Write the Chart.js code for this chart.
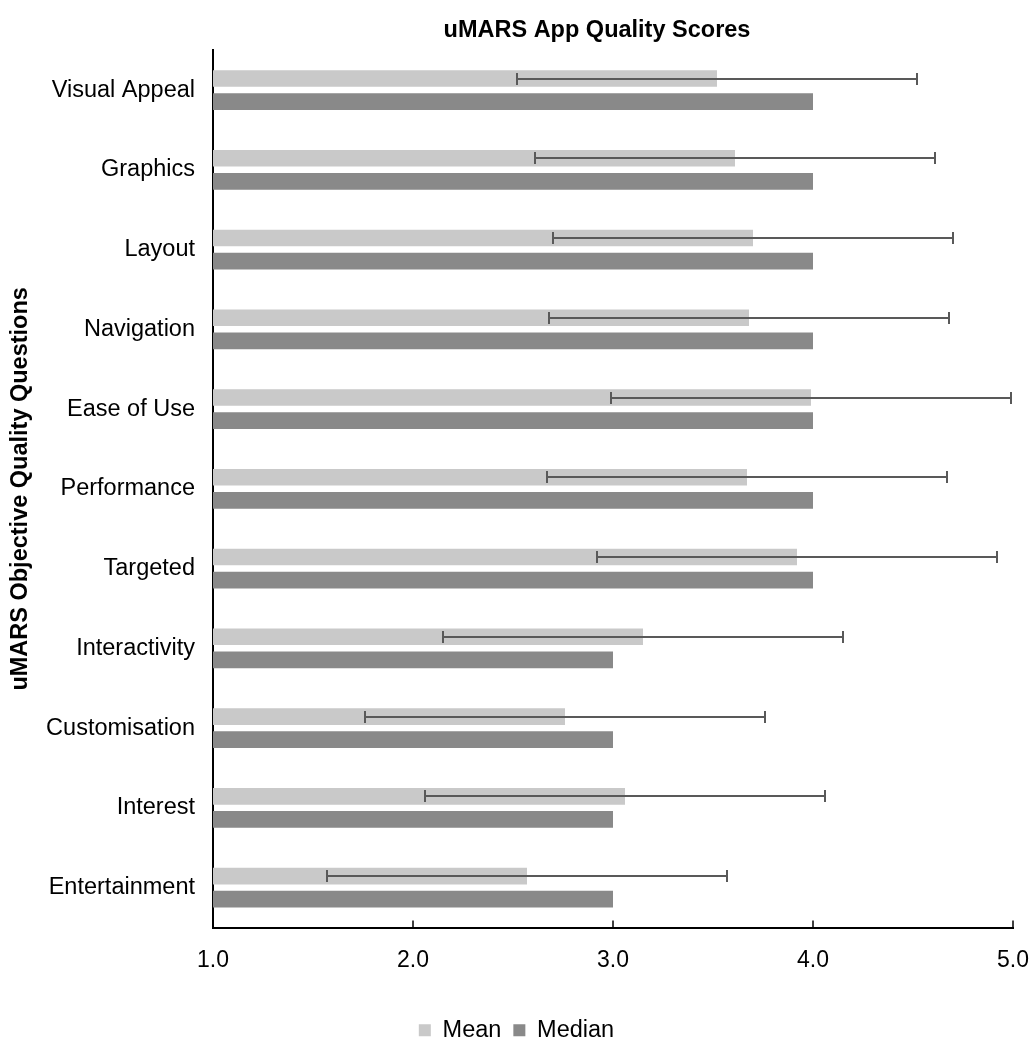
<!DOCTYPE html>
<html>
<head>
<meta charset="utf-8">
<script src="https://cdn.jsdelivr.net/npm/chart.js@4.4.0/dist/chart.umd.min.js"></script>
<style>
  html, body { margin: 0; padding: 0; background: #fff; }
  #wrap { width: 1031px; height: 1045px; }
</style>
</head>
<body>
<div id="wrap"><canvas id="c" width="1031" height="1045"></canvas></div>
<script>
const categories = ["Visual Appeal", "Graphics", "Layout", "Navigation", "Ease of Use", "Performance", "Targeted", "Interactivity", "Customisation", "Interest", "Entertainment"];
const meanValues = [3.52, 3.61, 3.70, 3.68, 3.99, 3.67, 3.92, 3.15, 2.76, 3.06, 2.57];
const medianValues = [4, 4, 4, 4, 4, 4, 4, 3, 3, 3, 3];
const meanSD = [1.0, 1.0, 1.0, 1.0, 1.0, 1.0, 1.0, 1.0, 1.0, 1.0, 1.0];
const xTicks = [1, 2, 3, 4, 5];

const FONT = "'Liberation Sans', Arial, sans-serif";

const errorBarPlugin = {
  id: 'errorBars',
  afterDatasetsDraw(chart) {
    const meta = chart.getDatasetMeta(0);
    const xs = chart.scales.x;
    const ctx = chart.ctx;
    ctx.save();
    ctx.strokeStyle = '#595959';
    ctx.lineWidth = 2;
    meta.data.forEach((bar, i) => {
      const y = Math.round(bar.y);
      const x1 = xs.getPixelForValue(meanValues[i] - meanSD[i]);
      const x2 = xs.getPixelForValue(meanValues[i] + meanSD[i]);
      ctx.beginPath();
      ctx.moveTo(x1, y); ctx.lineTo(x2, y);
      ctx.moveTo(x1, y - 6); ctx.lineTo(x1, y + 6);
      ctx.moveTo(x2, y - 6); ctx.lineTo(x2, y + 6);
      ctx.stroke();
    });
    ctx.restore();
  }
};

const innerTicksPlugin = {
  id: 'innerTicks',
  afterDraw(chart) {
    const xs = chart.scales.x;
    const ctx = chart.ctx;
    const yb = chart.chartArea.bottom;
    ctx.save();
    ctx.strokeStyle = '#000';
    ctx.lineWidth = 1.5;
    xTicks.forEach(v => {
      const x = xs.getPixelForValue(v);
      ctx.beginPath();
      ctx.moveTo(x, yb); ctx.lineTo(x, yb - 7);
      ctx.stroke();
    });
    ctx.restore();
  }
};

const blockShiftPlugin = {
  id: 'blockShift',
  afterLayout(chart) {
    if (chart.titleBlock) { chart.titleBlock.left = 181; }
    if (chart.legend) { chart.legend.left += 10; chart.legend.right += 10; }
  }
};

new Chart(document.getElementById('c'), {
  type: 'bar',
  data: {
    labels: categories,
    datasets: [
      { label: 'Mean', data: meanValues, backgroundColor: '#c9c9c9', categoryPercentage: 0.58, barPercentage: 0.72 },
      { label: 'Median', data: medianValues, backgroundColor: '#898989', categoryPercentage: 0.58, barPercentage: 0.72 }
    ]
  },
  options: {
    indexAxis: 'y',
    responsive: false,
    animation: false,
    layout: { padding: { top: 0, right: 18, bottom: -7, left: 0 } },
    plugins: {
      title: {
        display: true,
        text: 'uMARS App Quality Scores',
        color: '#000',
        font: { family: FONT, size: 23.5, weight: 'bold' },
        padding: { top: 16, bottom: 6 }
      },
      legend: {
        position: 'bottom',
        labels: {
          color: '#000',
          font: { family: FONT, size: 23.5 },
          boxWidth: 12, boxHeight: 12,
          padding: 12
        }
      },
      tooltip: { enabled: false }
    },
    scales: {
      x: {
        min: 1, max: 5,
        afterBuildTicks(scale) { scale.ticks = xTicks.map(v => ({ value: v })); },
        afterFit(scale) { scale.height = 79; scale.paddingRight = 0; scale.paddingLeft = 0; },
        grid: { display: false, drawTicks: false },
        border: { display: true, color: '#000', width: 2 },
        ticks: {
          color: '#000',
          font: { family: FONT, size: 23 },
          padding: 19,
          callback: v => Number(v).toFixed(1)
        }
      },
      y: {
        afterFit(scale) { scale.width = 213; },
        grid: { display: false, drawTicks: false },
        border: { display: true, color: '#000', width: 2 },
        ticks: {
          color: '#000',
          font: { family: FONT, size: 23.5 },
          padding: 18
        },
        title: {
          display: true,
          text: 'uMARS Objective Quality Questions',
          color: '#000',
          font: { family: FONT, size: 23.5, weight: 'bold' },
          padding: { top: 6, bottom: 0 }
        }
      }
    }
  },
  plugins: [errorBarPlugin, innerTicksPlugin, blockShiftPlugin]
});
</script>
</body>
</html>
